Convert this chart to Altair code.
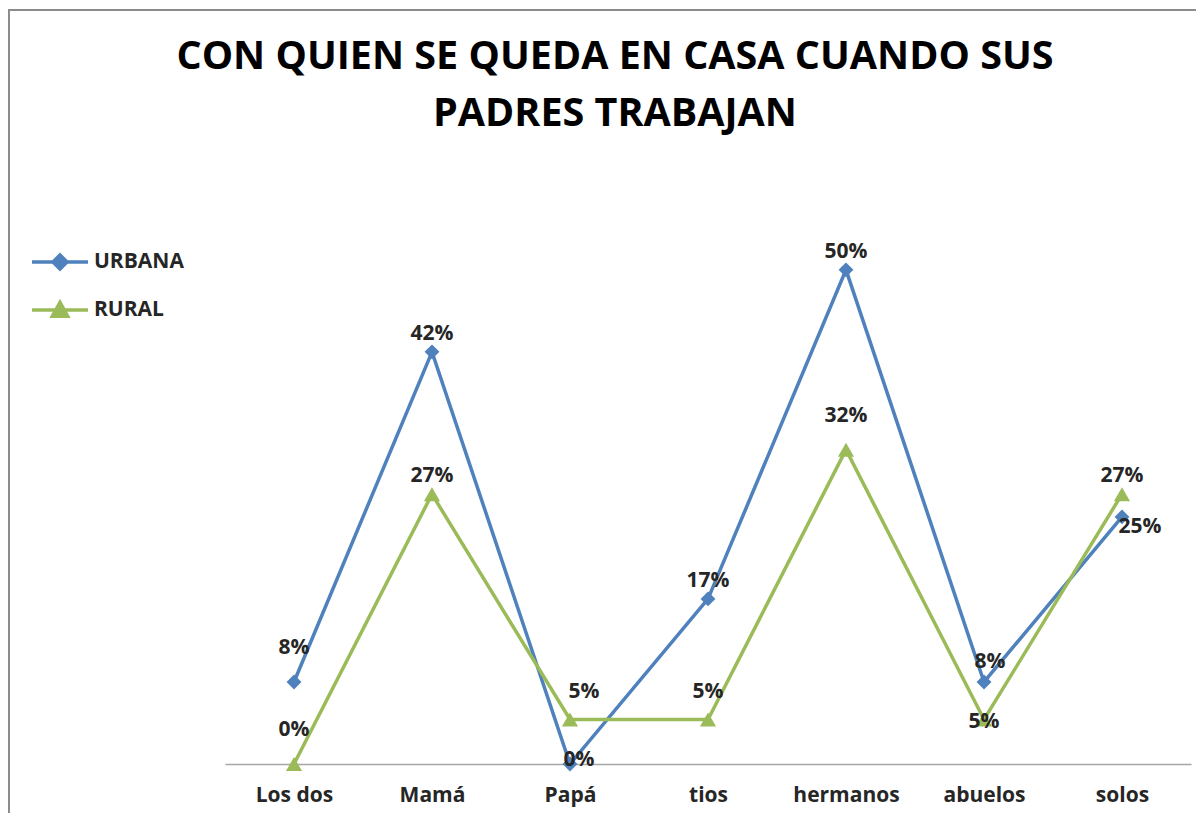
import altair as alt
import pandas as pd
import json

categories = ["Los dos", "Mamá", "Papá", "tios", "hermanos", "abuelos", "solos"]
urbana = [0.083, 0.417, 0.0, 0.167, 0.50, 0.083, 0.25]
rural = [0.0, 0.273, 0.045, 0.045, 0.318, 0.045, 0.273]
series_names = ["URBANA", "RURAL"]
series_colors = ["#4F81BD", "#9BBB59"]
title_lines = ["CON QUIEN SE QUEDA EN CASA CUANDO SUS", "PADRES TRABAJAN"]

rows = []
for c, u, r in zip(categories, urbana, rural):
    rows.append({"cat": c, "serie": "URBANA", "val": u})
    rows.append({"cat": c, "serie": "RURAL", "val": r})
df = pd.DataFrame(rows)

W, H = 966, 593
FONT = "Open Sans"
FS = 21

x = alt.X("cat:N", sort=categories,
          scale=alt.Scale(paddingInner=0, paddingOuter=0.5, domain=categories),
          axis=alt.Axis(title=None, labelAngle=0, ticks=False, domain=True,
                        domainColor="#a6a6a6", domainWidth=1.5,
                        labelFont=FONT, labelFontWeight="bold", labelFontSize=FS,
                        labelColor="#262626", labelPadding=20, grid=False))
y = alt.Y("val:Q", scale=alt.Scale(domain=[0, 0.6], nice=False), axis=None)
color = alt.Color("serie:N", scale=alt.Scale(domain=series_names, range=series_colors), legend=None)

base = alt.Chart(df)

lines = base.mark_line(strokeWidth=3.5).encode(x=x, y=y, color=color)

points = base.mark_point(filled=True, opacity=1).encode(
    x=x, y=y, color=color,
    shape=alt.Shape("serie:N", scale=alt.Scale(domain=series_names, range=["diamond", "triangle-up"]), legend=None),
    size=alt.Size("serie:N", scale=alt.Scale(domain=series_names, range=[220, 260]), legend=None),
)

legend_layer = base.mark_point(filled=True, opacity=0, strokeWidth=3.5).encode(
    x=x, y=y,
    color=alt.Color("serie:N", scale=alt.Scale(domain=series_names, range=series_colors),
                    legend=alt.Legend(title=None, orient="none", legendX=-181, legendY=75,
                                      symbolOpacity=1, symbolSize=784, symbolStrokeWidth=3.5,
                                      labelFont=FONT, labelFontWeight="bold", labelFontSize=FS,
                                      labelColor="#262626", labelOffset=18, rowPadding=18,
                                      padding=0)),
    shape=alt.Shape("serie:N", scale=alt.Scale(domain=series_names, range=[
        "M-2,0L2,0M0,-0.5L0.5,0L0,0.5L-0.5,0Z",
        "M-2,0L2,0M0,-0.55L0.55,0.45L-0.55,0.45Z"]), legend=None),
    stroke=alt.Stroke("serie:N", scale=alt.Scale(domain=series_names, range=series_colors), legend=None),
)

label_style = dict(font=FONT, fontWeight="bold", fontSize=FS, color="#262626")

def lab(serie, cats, **kw):
    expr = f"datum.serie == '{serie}' && indexof({json.dumps(cats)}, datum.cat) >= 0"
    return base.transform_filter(expr).mark_text(**label_style, **kw).encode(
        x=x, y=y, text=alt.Text("val:Q", format=".0%"))

labels = [
    lab("URBANA", ["Los dos"], dy=-34),
    lab("URBANA", ["Mamá", "tios", "hermanos"], dy=-18),
    lab("URBANA", ["abuelos"], dx=6, dy=-20),
    lab("URBANA", ["Papá"], dx=9, dy=-4),
    lab("URBANA", ["solos"], dx=18, dy=10),
    lab("RURAL", ["Los dos", "hermanos"], dy=-34),
    lab("RURAL", ["Mamá", "solos"], dy=-18),
    lab("RURAL", ["tios"], dy=-28),
    lab("RURAL", ["Papá"], dx=14, dy=-28),
    lab("RURAL", ["abuelos"], dy=2),
]

frame = alt.Chart(pd.DataFrame({"k": [0]})).mark_rect(
    fill="white", fillOpacity=0, stroke="#8c8c8c", strokeWidth=2).encode(
    x=alt.value(-216), x2=alt.value(W + 40), y=alt.value(-161), y2=alt.value(H + 80))

chart = alt.layer(
    frame, lines, points, legend_layer, *labels
).resolve_scale(shape="independent", color="independent", stroke="independent").properties(
    width=W, height=H,
    title=alt.TitleParams(text=title_lines, font=FONT, fontWeight="bold", fontSize=39.5,
                          lineHeight=57, color="#000000", anchor="middle", dx=-93, offset=-125),
    autosize=alt.AutoSizeParams(type="none"),
    padding={"left": 217, "top": 163, "right": 5, "bottom": 49},
).configure(background="white").configure_view(stroke=None)

chart.save("out.html", embed_options={"renderer": "svg", "actions": False})
